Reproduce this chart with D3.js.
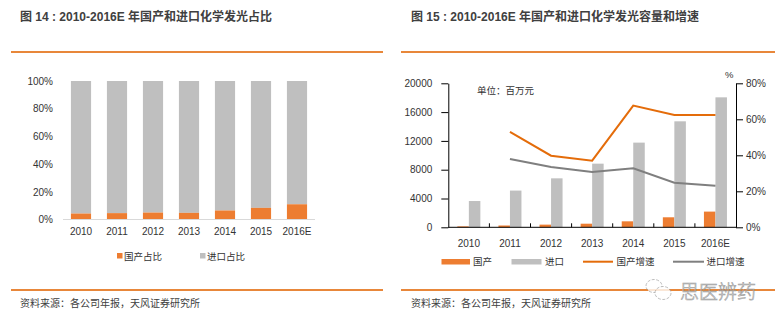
<!DOCTYPE html>
<html><head><meta charset="utf-8">
<script src="https://cdn.jsdelivr.net/npm/d3@7"></script>
<style>
html,body{margin:0;padding:0;background:#fff;}
svg{display:block;}
text{font-family:"Liberation Sans","Noto Sans CJK SC",sans-serif;}
</style></head>
<body><svg id="c" width="782" height="324"></svg>
<script>
// ---- data ----
const years = ["2010","2011","2012","2013","2014","2015","2016E"];
const domesticShare = [0.043,0.046,0.050,0.048,0.065,0.084,0.110];
const importShare = domesticShare.map(d => 1 - d);
const domesticValue = [130,250,370,500,830,1390,2180];
const importValue = [3650,5100,6800,8840,11760,14720,18050];
const domesticGrowth = [null,0.53,0.398,0.37,0.676,0.624,0.624];
const importGrowth = [null,0.38,0.335,0.307,0.328,0.248,0.231];
const shareTicks = [0,0.2,0.4,0.6,0.8,1.0];
const valueTicks = [0,4000,8000,12000,16000,20000];
const growthTicks = [0,0.2,0.4,0.6,0.8];
const title1 = "图 14 : 2010-2016E 年国产和进口化学发光占比";
const title2 = "图 15 : 2010-2016E 年国产和进口化学发光容量和增速";
const source = "资料来源：各公司年报，天风证券研究所";
const legend1 = ["国产占比","进口占比"];
const legend2 = ["国产","进口","国产增速","进口增速"];

const ORANGE = "#ED7D31", GRAY = "#BFBFBF", LINE_OR = "#E46C0A", LINE_GR = "#7F7F7F", TXT = "#333";
const TICKFONT = "Liberation Sans";
const svg = d3.select("#c");

// ---- frame: titles, rules, source ----
svg.append("text").attr("x",20).attr("y",21).attr("font-size",12).attr("font-weight","bold").attr("fill","#404040").text(title1);
svg.append("text").attr("x",411).attr("y",21).attr("font-size",12).attr("font-weight","bold").attr("fill","#404040").text(title2);
[[11,383],[401,775]].forEach(([a,b])=>{
  svg.append("line").attr("x1",a).attr("x2",b).attr("y1",52).attr("y2",52).attr("stroke","#E8873A").attr("stroke-width",2);
  svg.append("line").attr("x1",a).attr("x2",b).attr("y1",290).attr("y2",290).attr("stroke","#E8873A").attr("stroke-width",2);
});
svg.append("text").attr("x",20).attr("y",307).attr("font-size",10).attr("fill","#404040").text(source);
svg.append("text").attr("x",411).attr("y",307).attr("font-size",10).attr("fill","#404040").text(source);

// ---- left chart ----
const xL = d3.scaleBand().domain(years).range([63,315]).paddingInner(0.44).paddingOuter(0.22);
const yL = d3.scaleLinear().domain([0,1]).range([219.5,81]);
const gL = svg.append("g");
gL.selectAll("rect.imp").data(years).join("rect")
  .attr("x",d=>xL(d)).attr("width",xL.bandwidth())
  .attr("y",(d,i)=>yL(domesticShare[i]+importShare[i])).attr("height",(d,i)=>yL(domesticShare[i])-yL(domesticShare[i]+importShare[i]))
  .attr("fill",GRAY);
gL.selectAll("rect.dom").data(years).join("rect")
  .attr("x",d=>xL(d)).attr("width",xL.bandwidth())
  .attr("y",(d,i)=>yL(domesticShare[i])).attr("height",(d,i)=>yL(0)-yL(domesticShare[i]))
  .attr("fill",ORANGE);
const axL = gL.append("g").attr("transform","translate(53,0)")
  .call(d3.axisLeft(yL).tickValues(shareTicks).tickFormat(d3.format(".0%")).tickSize(0).tickPadding(0));
axL.select(".domain").remove();
axL.selectAll("text").attr("font-size",10).attr("fill",TXT).attr("font-family",TICKFONT);
const axLB = gL.append("g").attr("transform",`translate(0,${yL(0)})`)
  .call(d3.axisBottom(xL).tickSize(0).tickPadding(8));
axLB.select(".domain").attr("stroke","#D9D9D9").attr("d","M63,0H315");
axLB.selectAll("text").attr("font-size",10).attr("fill",TXT).attr("font-family",TICKFONT);
// legend left
const lg1 = gL.append("g");
[[117,ORANGE,legend1[0]],[200,GRAY,legend1[1]]].forEach(([x,c,t])=>{
  lg1.append("rect").attr("x",x).attr("y",253).attr("width",5.5).attr("height",5.5).attr("fill",c);
  lg1.append("text").attr("x",x+7).attr("y",259.5).attr("font-size",9.5).attr("fill",TXT).text(t);
});

// ---- right chart ----
const x0 = d3.scaleBand().domain(years).range([448.3,736]).padding(0);
const x1 = d3.scaleBand().domain(["dom","imp"]).range([x0.bandwidth()*0.22, x0.bandwidth()*0.78]).padding(0);
const yV = d3.scaleLinear().domain([0,20000]).range([227.3,83.3]);
const yG = d3.scaleLinear().domain([0,0.8]).range([227.3,83.3]);
const gR = svg.append("g");
gR.selectAll("rect.d").data(years).join("rect")
  .attr("x",d=>x0(d)+x1("dom")).attr("width",x1.bandwidth())
  .attr("y",(d,i)=>yV(domesticValue[i])).attr("height",(d,i)=>yV(0)-yV(domesticValue[i])).attr("fill",ORANGE);
gR.selectAll("rect.i").data(years).join("rect")
  .attr("x",d=>x0(d)+x1("imp")).attr("width",x1.bandwidth())
  .attr("y",(d,i)=>yV(importValue[i])).attr("height",(d,i)=>yV(0)-yV(importValue[i])).attr("fill",GRAY);
const line = d3.line().defined(d=>d.v!==null).x(d=>x0(d.y)+x0.bandwidth()/2).y(d=>yG(d.v));
gR.append("path").datum(years.map((y,i)=>({y,v:importGrowth[i]}))).attr("d",line)
  .attr("fill","none").attr("stroke",LINE_GR).attr("stroke-width",2);
gR.append("path").datum(years.map((y,i)=>({y,v:domesticGrowth[i]}))).attr("d",line)
  .attr("fill","none").attr("stroke",LINE_OR).attr("stroke-width",2);
// axes
const ayl = gR.append("g").attr("transform","translate(448.3,0)")
  .call(d3.axisLeft(yV).tickValues(valueTicks).tickFormat(d3.format("d")).tickSize(7).tickSizeOuter(0).tickPadding(9));
const ayr = gR.append("g").attr("transform","translate(736,0)")
  .call(d3.axisRight(yG).tickValues(growthTicks).tickFormat(d3.format(".0%")).tickSize(7).tickSizeOuter(0).tickPadding(3));
const axb = gR.append("g").attr("transform",`translate(0,${yV(0)})`)
  .call(d3.axisBottom(x0).tickSize(0).tickPadding(13));
// category separators (ticks pointing upward)
axb.selectAll("line.sep").data(years.slice(1)).join("line").attr("class","sep")
  .attr("x1",d=>x0(d)).attr("x2",d=>x0(d)).attr("y1",0).attr("y2",-4).attr("stroke","#000");
[ayl,ayr,axb].forEach(a=>{
  a.selectAll(".domain,line").attr("stroke","#000");
  a.selectAll("text").attr("font-size",10).attr("fill",TXT).attr("font-family",TICKFONT);
});
axb.select(".domain").attr("d","M448.3,0H736");
gR.append("text").attr("x",725).attr("y",78).attr("font-size",9.5).attr("fill",TXT).text("%");
gR.append("text").attr("x",477).attr("y",94).attr("font-size",9.5).attr("fill",TXT).text("单位：百万元");
// legend right
const lg2 = gR.append("g");
lg2.append("rect").attr("x",441.5).attr("y",259).attr("width",28.5).attr("height",5.5).attr("fill",ORANGE);
lg2.append("text").attr("x",473).attr("y",265).attr("font-size",9.5).attr("fill",TXT).text(legend2[0]);
lg2.append("rect").attr("x",511.5).attr("y",259).attr("width",30).attr("height",5.5).attr("fill",GRAY);
lg2.append("text").attr("x",545).attr("y",265).attr("font-size",9.5).attr("fill",TXT).text(legend2[1]);
lg2.append("line").attr("x1",583).attr("x2",613).attr("y1",261.7).attr("y2",261.7).attr("stroke",LINE_OR).attr("stroke-width",2);
lg2.append("text").attr("x",616.5).attr("y",265).attr("font-size",9.5).attr("fill",TXT).text(legend2[2]);
lg2.append("line").attr("x1",673).attr("x2",704).attr("y1",261.7).attr("y2",261.7).attr("stroke",LINE_GR).attr("stroke-width",2);
lg2.append("text").attr("x",706.5).attr("y",265).attr("font-size",9.5).attr("fill",TXT).text(legend2[3]);

// watermark
const wm = svg.append("g").attr("opacity",0.8);
wm.append("ellipse").attr("cx",654).attr("cy",286).attr("rx",8).attr("ry",6.5).attr("fill","#fff").attr("stroke","#999").attr("stroke-width",0.8).attr("stroke-dasharray","3,1.5");
wm.append("ellipse").attr("cx",663).attr("cy",293).attr("rx",8).attr("ry",6.5).attr("fill","#fff").attr("stroke","#999").attr("stroke-width",0.8).attr("stroke-dasharray","3,1.5");
wm.append("text").attr("x",680).attr("y",298.5).attr("font-size",19).attr("font-weight",300).attr("fill","#fff").attr("stroke","#888").attr("stroke-width",0.6).attr("font-family","Noto Sans CJK SC").text("思医辨药");
</script></body></html>
